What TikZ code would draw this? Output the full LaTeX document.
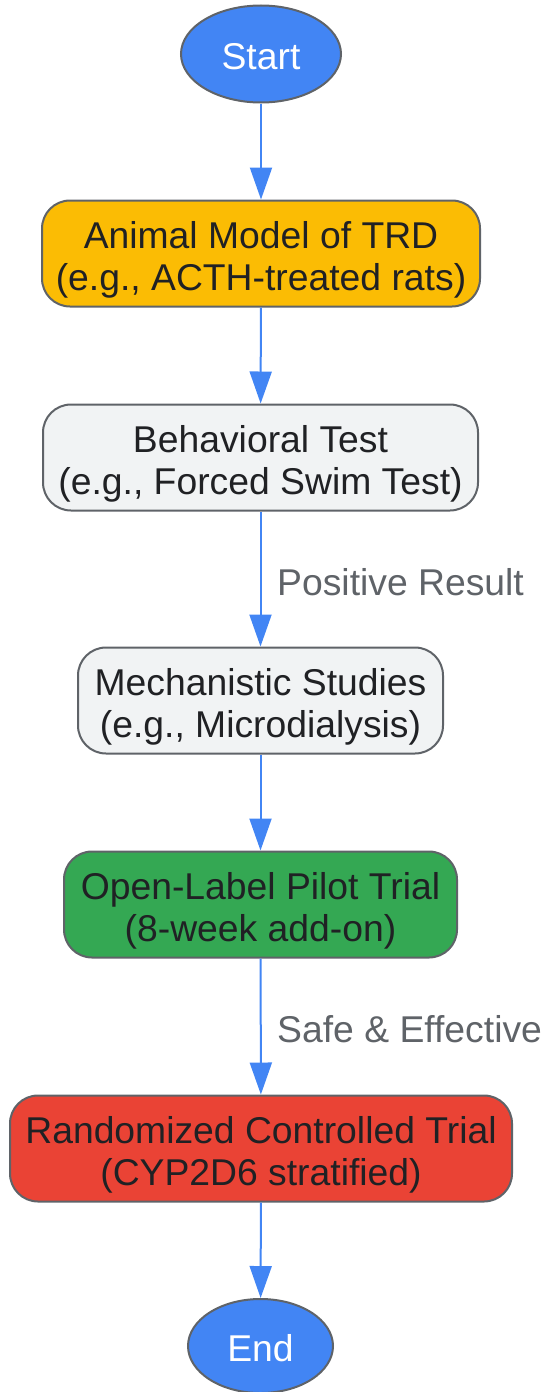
\documentclass[tikz,border=0pt]{standalone}
\usepackage{fontspec}
\setmainfont{Liberation Sans}
\usetikzlibrary{arrows.meta,shapes.geometric}
\definecolor{gblue}{HTML}{4285F4}
\definecolor{gamber}{HTML}{FBBC04}
\definecolor{ggray}{HTML}{F1F3F4}
\definecolor{ggreen}{HTML}{34A853}
\definecolor{gred}{HTML}{EA4335}
\definecolor{gborder}{HTML}{5F6368}
\definecolor{gtext}{HTML}{202124}
\definecolor{glabel}{HTML}{5F6368}
\newcommand\lowtext[2][8pt]{\raisebox{-#1}[\height][\depth]{\begin{tabular}{@{}c@{}}#2\end{tabular}}}
\tikzset{
  base/.style={draw=gborder, line width=2pt, font=\fontsize{37.3}{42}\selectfont, text=gtext, align=center, inner sep=0pt},
  terminal/.style={base, ellipse, fill=gblue, text=white},
  stepbox/.style={base, rectangle, rounded corners=28pt, minimum height=106pt},
  conn/.style={draw=gblue, line width=2pt, -{Triangle[length=32pt,width=22pt]}},
  elabel/.style={font=\fontsize{37.3}{42}\selectfont, text=glabel, anchor=west, inner sep=0pt}
}
\begin{document}
\begin{tikzpicture}[x=1pt,y=-1pt]
\useasboundingbox (0,0) rectangle (545,1392);
\node[terminal, minimum width=160pt, minimum height=97pt] (start) at (261,54) {\lowtext[7pt]{Start}};
\node[stepbox, fill=gamber, minimum width=438pt] (animal) at (261,253.5) {\lowtext{Animal Model of TRD\\(e.g., ACTH-treated rats)}};
\node[stepbox, fill=ggray, minimum width=435pt] (behav) at (260.5,457.5) {\lowtext{Behavioral Test\\(e.g., Forced Swim Test)}};
\node[stepbox, fill=ggray, minimum width=365pt] (mech) at (260.5,700.5) {\lowtext{Mechanistic Studies\\(e.g., Microdialysis)}};
\node[stepbox, fill=ggreen, minimum width=393pt] (open) at (260.5,904.5) {\lowtext{Open-Label Pilot Trial\\(8-week add-on)}};
\node[stepbox, fill=gred, minimum width=502pt] (rct) at (261,1148.5) {\lowtext{Randomized Controlled Trial\\(CYP2D6 stratified)}};
\node[terminal, minimum width=145pt, minimum height=94pt] (end) at (260.5,1346) {\lowtext[7pt]{End}};
\draw[conn] (start) -- (animal);
\draw[conn] (animal) -- (behav);
\draw[conn] (behav) -- (mech);
\draw[conn] (mech) -- (open);
\draw[conn] (open) -- (rct);
\draw[conn] (rct) -- (end);
\node[elabel] (lab1) at (277,582) {Positive Result};
\node[elabel] (lab2) at (277,1029) {Safe \& Effective};
\end{tikzpicture}
\end{document}
